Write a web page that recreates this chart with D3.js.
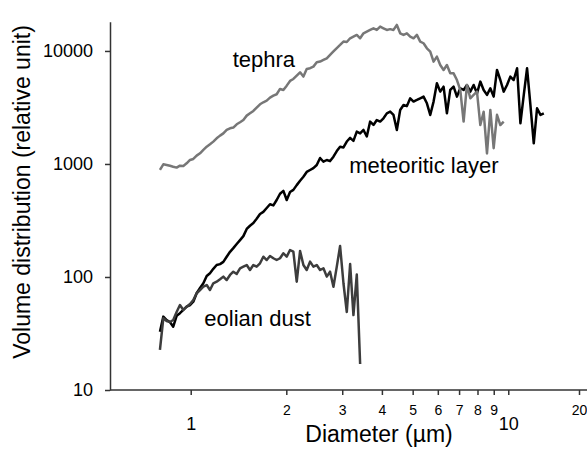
<!DOCTYPE html>
<html>
<head>
<meta charset="utf-8">
<script src="https://cdn.jsdelivr.net/npm/d3@7"></script>
<style>
  body { margin: 0; background: #fff; }
</style>
</head>
<body>
<script>
const overallWidth = 587
const overallHeight = 449

// size bins (um), shared by all three samples
const diameter = [
  0.800, 0.820, 0.840, 0.860, 0.881, 0.903, 0.925, 0.948, 0.971, 0.995,
  1.019, 1.044, 1.070, 1.096, 1.123, 1.150, 1.178, 1.207, 1.237, 1.267,
  1.298, 1.330, 1.362, 1.396, 1.430, 1.465, 1.501, 1.537, 1.575, 1.613,
  1.653, 1.693, 1.735, 1.777, 1.821, 1.865, 1.911, 1.958, 2.006, 2.055,
  2.105, 2.157, 2.210, 2.264, 2.319, 2.376, 2.434, 2.494, 2.555, 2.618,
  2.682, 2.747, 2.815, 2.884, 2.954, 3.027, 3.101, 3.177, 3.254, 3.334,
  3.416, 3.500, 3.585, 3.673, 3.763, 3.855, 3.950, 4.046, 4.146, 4.247,
  4.351, 4.458, 4.567, 4.679, 4.794, 4.911, 5.031, 5.155, 5.281, 5.410,
  5.543, 5.679, 5.818, 5.960, 6.106, 6.256, 6.409, 6.566, 6.727, 6.892,
  7.061, 7.234, 7.411, 7.593, 7.779, 7.970, 8.165, 8.365, 8.570, 8.780,
  8.995, 9.215, 9.441, 9.673, 9.910, 10.15, 10.40, 10.66, 10.92, 11.19,
  11.46, 11.74, 12.03, 12.32, 12.63, 12.94
]

const tephra = [
  885, 993, 980, 965, 946, 929, 966, 960, 1013, 1085,
  1107, 1185, 1243, 1331, 1422, 1493, 1577, 1687, 1782, 1866,
  2000, 2070, 2099, 2245, 2339, 2449, 2678, 2805, 2943, 3152,
  3375, 3516, 3633, 3866, 4027, 4140, 4613, 4519, 4932, 5432,
  5649, 6053, 6477, 5929, 6934, 7031, 7267, 7943, 8054, 8326,
  8610, 9226, 9900, 10600, 11300, 12100, 12000, 12950, 13400, 13870,
  12950, 14330, 14830, 15350, 15880, 15350, 16420, 15880, 15350, 15600,
  15350, 16990, 14330, 13870, 14330, 13400, 12950, 13870, 12100, 11700,
  10560, 9870, 8050, 8910, 7520, 6790, 7520, 6340, 6340, 5530,
  4520, 2370, 5000, 3810, 4080, 4370, 2210, 2900, 1240, 3010,
  1380, 2720, 2210, 2370
]

const meteoritic = [
  32.8, 44.6, 41.6, 40, 36.3, 45.3, 47.8, 51.1, 54.6, 56.5,
  60.4, 71.8, 80, 88, 102, 108, 118, 127.6, 130, 136,
  151, 167, 180, 196, 212, 230, 266, 284, 300, 327,
  361, 377, 408, 440, 430, 480, 545, 578, 480, 565,
  590, 650, 710, 770, 850, 885, 920, 980, 1130, 1047,
  1084, 1060, 1161, 1300, 1422, 1400, 1580, 1700, 1600, 1932,
  1866, 2000, 1750, 2371, 2213, 2449, 2371, 2535, 2805, 2904,
  2716, 2000, 3006, 3327, 3250, 3811, 3565, 3683, 3811, 3945,
  3443, 2716, 3565, 5176, 4365, 4831, 2805, 4519, 4831, 3945,
  4677, 4519, 5000, 4365, 5000, 4217, 5358, 4519, 4083, 4677,
  3945, 6792, 5533, 4365, 5000, 5929, 5533, 7031, 2291, 4083,
  7031, 3327, 1524, 3112, 2716, 2805
]

const eolian = [
  22.6, 43.2, 40.8, 40, 41.6, 49, 56.5, 51.1, 54.6, 57.7,
  62.5, 71.8, 76.7, 82, 84.9, 76.7, 87.9, 90.8, 95.4, 100.7,
  94, 104.2, 111.4, 106.4, 119.4, 123.4, 127.6, 115.3, 127.6, 123.4,
  132.2, 151.2, 141.3, 153.5, 146.5, 141.3, 146.5, 162.2, 151.2, 173.3,
  167.5, 90.8, 170, 127.6, 115.3, 136.8, 123.4, 127.6, 115.3, 119.4,
  100.7, 111.4, 82, 123.4, 188, 88, 49, 130, 46, 105,
  17
]

const seriesNames = ['meteoritic layer', 'tephra', 'eolian dust']
const seriesValues = [meteoritic, tephra, eolian]
const colors = ['#000', '#777', '#3d3d3d']

// label anchors in data units (diameter, volume)
const labelD = [3.158, 1.356, 1.104]
const labelV = [828, 7260, 36.8]

const yTicks = [10, 100, 1000, 10000]
const xMajor = [1, 10]
const xMinor = [2, 3, 4, 5, 6, 7, 8, 9, 20]

const font = "'Liberation Sans', Arial, Helvetica, sans-serif"

const svg = d3.select('body').append('svg')
  .attr('width', overallWidth)
  .attr('height', overallHeight)
  .style('font-family', font)

const x = d3.scaleLog().domain([0.557, 16.7]).range([110, 579]).clamp(true)
const y = d3.scaleLog().domain([10, 18150]).range([390, 21.7])

const line = d3.line()
  .x((v, i) => x(diameter[i]))
  .y(v => y(v))

svg.append('g')
  .attr('class', 'lines')
  .selectAll('path')
  .data(seriesValues)
  .enter().append('path')
  .attr('fill', 'none')
  .attr('stroke', (d, i) => colors[i])
  .attr('stroke-width', 2.5)
  .attr('stroke-linejoin', 'round')
  .attr('d', d => line(d))

// y axis
svg.append('g')
  .attr('class', 'y axis')
  .attr('transform', `translate(${x.range()[0]},0)`)
  .call(d3.axisLeft(y).tickValues(yTicks).tickFormat(d3.format('d'))
    .tickSize(5).tickSizeOuter(0).tickPadding(12))
  .call(g => g.selectAll('path, line').attr('stroke', '#333').attr('stroke-width', 1.5))
  .selectAll('text')
  .style('font-family', font)
  .style('font-size', '18px')
  .attr('fill', '#000')

// x axis, minor labels
const xg = svg.append('g')
  .attr('class', 'x axis')
  .attr('transform', `translate(0,${y.range()[0]})`)
xg.call(d3.axisBottom(x).tickValues(xMinor).tickFormat(d3.format('d'))
  .tickSize(5).tickSizeOuter(0))
  .call(g => g.select('.domain').remove())
  .selectAll('text')
  .attr('y', 25)
  .attr('dy', 0)
  .style('font-family', font)
  .style('font-size', '14px')
  .attr('fill', '#000')

// x axis, major labels
svg.append('g')
  .attr('class', 'x axis major')
  .attr('transform', `translate(0,${y.range()[0]})`)
  .call(d3.axisBottom(x).tickValues(xMajor).tickFormat(d3.format('d'))
    .tickSize(5).tickSizeOuter(0))
  .call(g => g.select('.domain').remove())
  .selectAll('text')
  .attr('y', 40)
  .attr('dy', 0)
  .style('font-family', font)
  .style('font-size', '18px')
  .attr('fill', '#000')

svg.selectAll('.x.axis .tick line').attr('stroke', '#333').attr('stroke-width', 1.5)

svg.append('line')
  .attr('x1', x.range()[0])
  .attr('x2', overallWidth)
  .attr('y1', y.range()[0])
  .attr('y2', y.range()[0])
  .attr('stroke', '#333')
  .attr('stroke-width', 1.5)

// curve labels
svg.append('g')
  .attr('class', 'labels')
  .selectAll('text')
  .data(seriesNames)
  .enter().append('text')
  .attr('x', (d, i) => x(labelD[i]))
  .attr('y', (d, i) => y(labelV[i]))
  .style('font-size', '22px')
  .text(d => d)

svg.append('text')
  .text('Diameter (µm)')
  .attr('x', 379)
  .attr('y', 442)
  .style('text-anchor', 'middle')
  .style('font-size', '23px')

svg.append('text')
  .text('Volume distribution (relative unit)')
  .attr('transform', 'translate(30,192) rotate(-90)')
  .style('text-anchor', 'middle')
  .style('font-size', '23px')
</script>
</body>
</html>
